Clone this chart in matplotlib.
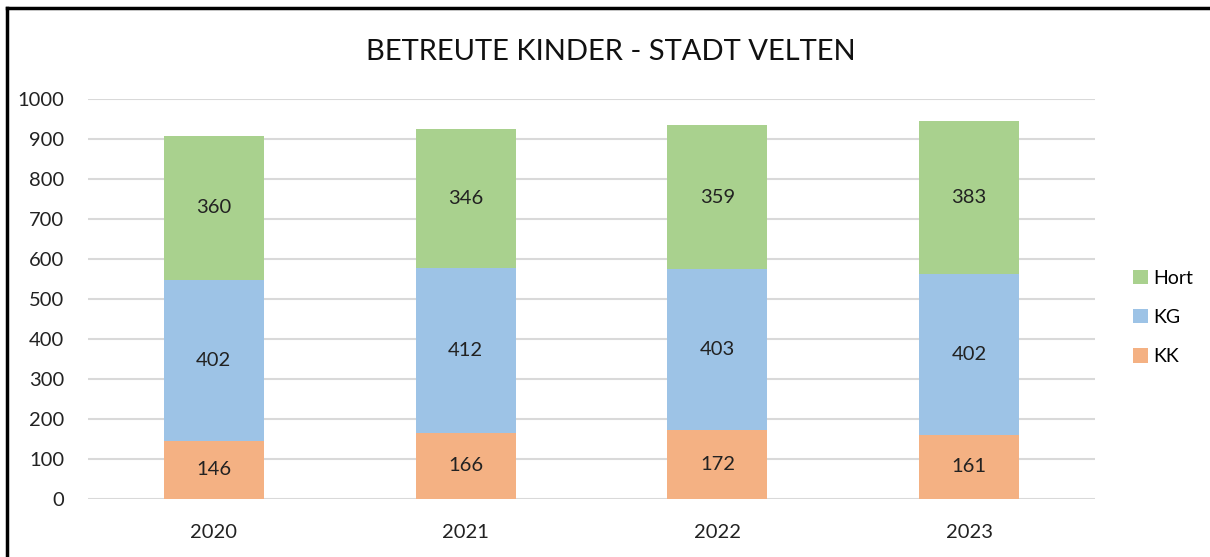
import matplotlib.pyplot as plt
from matplotlib.lines import Line2D

plt.rcParams['font.family'] = ['Lato', 'DejaVu Sans']

years = ['2020', '2021', '2022', '2023']
kk = [146, 166, 172, 161]
kg = [402, 412, 403, 402]
hort = [360, 346, 359, 383]

c_kk = '#f4b183'
c_kg = '#9dc3e6'
c_hort = '#a9d18e'

fig = plt.figure(figsize=(12.1, 5.57), dpi=100)
ax = fig.add_axes([0.0727, 0.1041, 0.8323, 0.7182])

x = range(len(years))
w = 0.397
b1 = ax.bar(x, kk, w, color=c_kk, label='KK', zorder=3)
b2 = ax.bar(x, kg, w, bottom=kk, color=c_kg, label='KG', zorder=3)
bottom3 = [a + b for a, b in zip(kk, kg)]
b3 = ax.bar(x, hort, w, bottom=bottom3, color=c_hort, label='Hort', zorder=3)

for bars in (b1, b2, b3):
    ax.bar_label(bars, label_type='center', fontsize=14.5, color='#222222')

ax.set_xlim(-0.5, 3.5)
ax.set_ylim(0, 1000)
ax.set_yticks(range(0, 1001, 100))
ax.set_xticks(list(x))
ax.set_xticklabels(years)
ax.yaxis.grid(True, color='#d9d9d9', lw=1.5, zorder=0)
ax.set_axisbelow(True)
for s in ax.spines.values():
    s.set_visible(False)
ax.tick_params(length=0, labelsize=14.5, colors='#222222')
ax.tick_params(axis='x', pad=18)
ax.tick_params(axis='y', pad=17)

fig.text(0.505, 0.907, 'BETREUTE KINDER - STADT VELTEN', ha='center', va='center',
         fontsize=21, color='#111111')

handles = [b3, b2, b1]
leg = fig.legend(handles, ['Hort', 'KG', 'KK'], loc='center left',
                 bbox_to_anchor=(0.922, 0.43), frameon=False, fontsize=14,
                 handlelength=0.75, handleheight=0.75, handletextpad=0.3,
                 labelspacing=1.15)

fig.add_artist(Line2D([0.0058, 1.0], [0.9856, 0.9856], color='black', lw=2.5,
                      transform=fig.transFigure))
fig.add_artist(Line2D([0.0058, 0.0058], [0.0, 0.9856], color='black', lw=2.5,
                      transform=fig.transFigure))

fig.savefig('out.png', dpi=100)
